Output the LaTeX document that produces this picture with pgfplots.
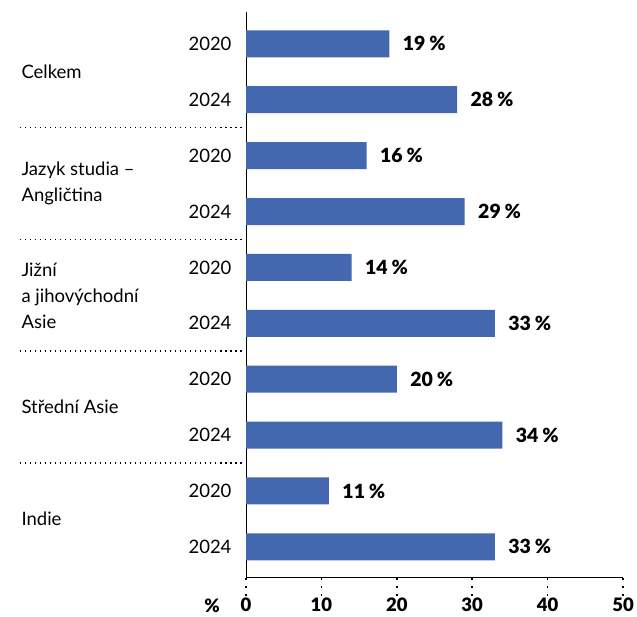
\documentclass[border=0pt]{standalone}
\usepackage{fontspec}
\setmainfont{Lato}
\newfontfamily\blackfont{Lato Black}
\usepackage{pgfplots}
\pgfplotsset{compat=1.18}
\usetikzlibrary{calc}
\definecolor{barblue}{HTML}{4468B0}
\begin{document}
\begin{tikzpicture}[font=\fontsize{18.5pt}{26pt}\selectfont]
\path[use as bounding box] (0,0) rectangle (637pt,617pt);
\begin{axis}[
  at={(246pt,40pt)}, anchor=south west,
  scale only axis, width=377pt, height=565pt,
  xbar, bar width=27pt,
  y dir=reverse,
  xmin=0, xmax=50, ymin=-0.57, ymax=9.54,
  axis x line*=bottom, axis y line*=left,
  axis line style={line width=1pt, -},
  xtick={0,10,20,30,40,50},
  x tick style={black, line width=1.6pt, dash pattern=on 1.6pt off 6.5pt, dash phase=0pt},
  tick align=outside, major tick length=19pt,
  xticklabel style={font=\fontsize{18.5pt}{20pt}\selectfont\blackfont, inner sep=0pt, yshift=-2pt},
  /pgf/number format/assume math mode=true,
  ytick={0,...,9},
  yticklabels={2020,2024,2020,2024,2020,2024,2020,2024,2020,2024},
  y tick style={draw=none},
  yticklabel style={xshift=8pt},
  nodes near coords={\pgfmathprintnumber{\pgfplotspointmeta}\hspace{0.2em}\%},
  every node near coord/.append style={font=\fontsize{19.5pt}{20pt}\selectfont\blackfont, anchor=west, xshift=10pt},
  clip=false,
]
\addplot[fill=barblue, draw=none] coordinates {
(19,0) (28,1) (16,2) (29,3) (14,4) (33,5) (20,6) (34,7) (11,8) (33,9)};
\pgfplotsinvokeforeach{1.5,3.5,5.5,7.5}{
  \draw[line width=1.5pt, dash pattern=on 1.5pt off 3.5pt] ($(axis cs:0,#1)+(-226pt,0pt)$) -- ($(axis cs:0,#1)+(-3pt,0pt)$);
}
\node[anchor=west, align=left] at ($(axis cs:0,0.5)+(-228pt,0pt)$) {Celkem};
\node[anchor=west, align=left] at ($(axis cs:0,2.5)+(-228pt,0pt)$) {Jazyk studia –\\Angličtina};
\node[anchor=west, align=left] at ($(axis cs:0,4.5)+(-228pt,0pt)$) {Jižní\\a jihovýchodní\\Asie};
\node[anchor=west, align=left] at ($(axis cs:0,6.5)+(-228pt,0pt)$) {Střední Asie};
\node[anchor=west, align=left] at ($(axis cs:0,8.5)+(-228pt,0pt)$) {Indie};
\node[font=\fontsize{18.5pt}{20pt}\selectfont\blackfont, inner sep=0pt] at ($(rel axis cs:0,0)+(-34pt,-29pt)$) {\%};
\end{axis}
\end{tikzpicture}
\end{document}
